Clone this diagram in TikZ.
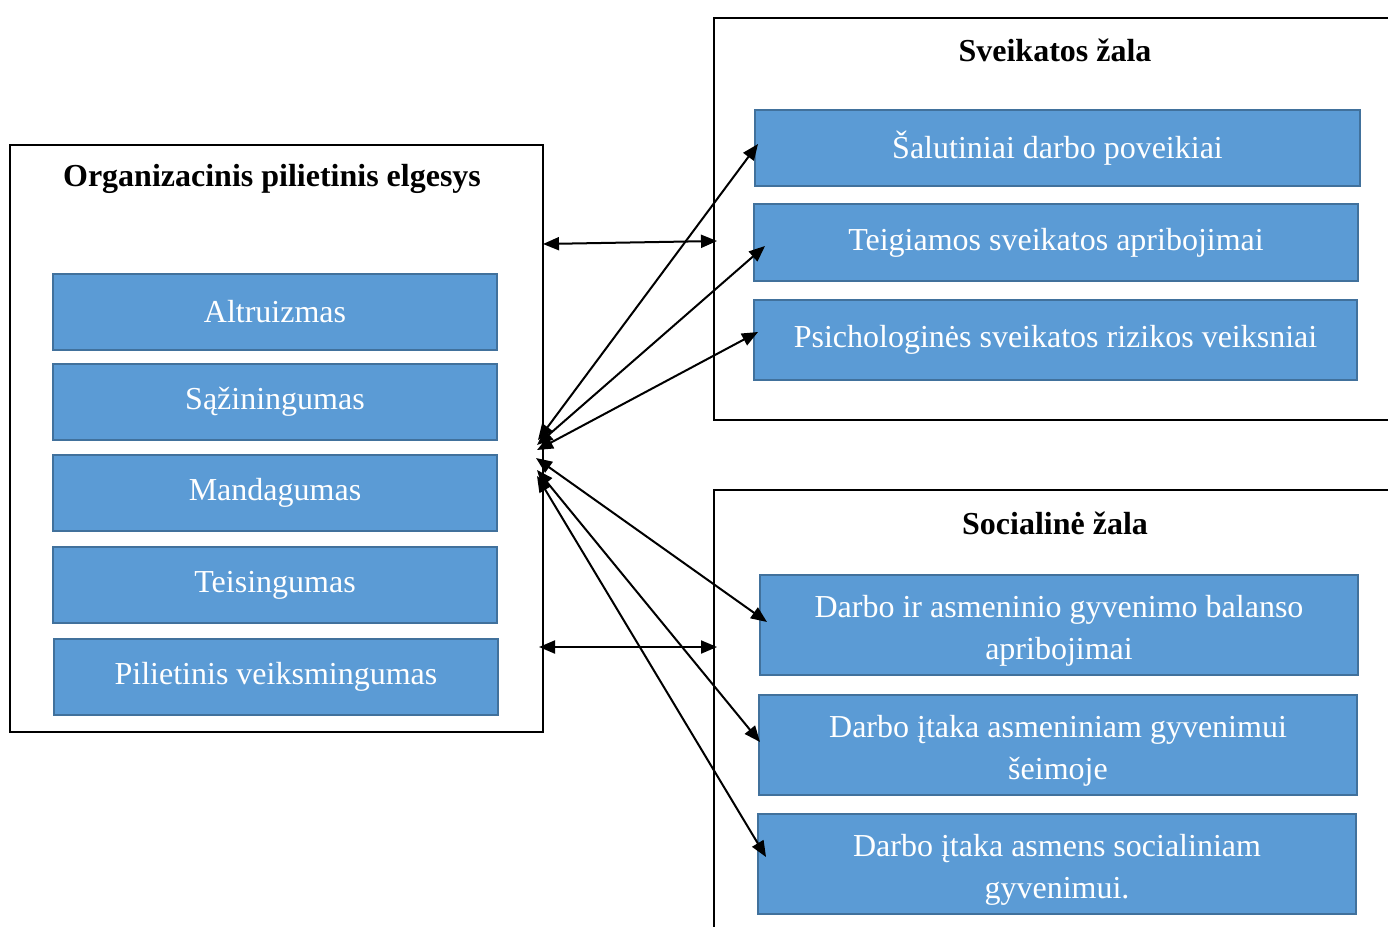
\documentclass[tikz,border=0pt]{standalone}
\usepackage{fontspec}
\setmainfont{Liberation Serif}
\usetikzlibrary{arrows.meta}
\definecolor{bluefill}{HTML}{5B9BD5}
\definecolor{blueedge}{HTML}{41719C}
\begin{document}
\begin{tikzpicture}[x=1pt,y=-1pt,
  outer/.style={draw=black,line width=2.2pt,fill=white,inner sep=0pt},
  item/.style={draw=blueedge,line width=2pt,fill=bluefill,text=white,inner sep=0pt,
    font=\fontsize{32}{42}\selectfont,align=center},
  ttl/.style={font=\fontsize{32}{36}\selectfont\bfseries,inner sep=0pt},
  link/.style={line width=2pt,{Triangle[length=16pt,width=13pt]}-{Triangle[length=16pt,width=13pt]}}]
\useasboundingbox (0,0) rectangle (1388,926);
% outer boxes
\node[outer,minimum width=533pt,minimum height=587pt] (L) at (276.5,438.5) {};
\node[outer,minimum width=706pt,minimum height=402pt] (R1) at (1067,219) {};
\node[outer,minimum width=706pt,minimum height=480pt] (R2) at (1067,730) {};
\node[ttl] (tL) at (272,179) {Organizacinis pilietinis elgesys};
\node[ttl] (tR1) at (1055,50) {Sveikatos žala};
\node[ttl] (tR2) at (1055,523) {Socialinė žala};
% left items
\node[item,minimum width=444pt,minimum height=76pt] (a1) at (275,311.5) {Altruizmas};
\node[item,minimum width=444pt,minimum height=76pt] (a2) at (275,401.5) {Sąžiningumas};
\node[item,minimum width=444pt,minimum height=76pt] (a3) at (275,493) {Mandagumas};
\node[item,minimum width=444pt,minimum height=76pt] (a4) at (275,585) {Teisingumas};
\node[item,minimum width=444pt,minimum height=76pt] (a5) at (276,677) {Pilietinis veiksmingumas};
% right items
\node[item,minimum width=605pt,minimum height=76pt] (s1) at (1057.5,148) {Šalutiniai darbo poveikiai};
\node[item,minimum width=604pt,minimum height=77pt] (s2) at (1056,242.5) {Teigiamos sveikatos apribojimai};
\node[item,minimum width=603pt,minimum height=80pt] (s3) at (1055.5,340) {Psichologinės sveikatos rizikos veiksniai};
\node[item,minimum width=598pt,minimum height=100pt] (b1) at (1059,625) {};
\node[item,minimum width=598pt,minimum height=100pt] (b2) at (1058,745) {};
\node[item,minimum width=598pt,minimum height=100pt] (b3) at (1057,864) {};
\node[item,draw=none,fill=none] (b1t) at ([yshift=-6pt]b1.center) {Darbo ir asmeninio gyvenimo balanso\\apribojimai};
\node[item,draw=none,fill=none] (b2t) at ([yshift=-6pt]b2.center) {Darbo įtaka asmeniniam gyvenimui\\šeimoje};
\node[item,draw=none,fill=none] (b3t) at ([yshift=-6pt]b3.center) {Darbo įtaka asmens socialiniam\\gyvenimui.};
% connector end points
\coordinate (h1l) at (543,244);
\coordinate (h1r) at (717,241);
\coordinate (h2l) at (539,647);
\coordinate (h2r) at (717,647);
\coordinate (c1) at (538,440);
\coordinate (c2) at (537,445);
\coordinate (c3) at (537,450);
\coordinate (c4) at (536,458);
\coordinate (c5) at (537,470);
\coordinate (c6) at (537,476);
\coordinate (e1) at (758,144);
\coordinate (e2) at (765,246);
\coordinate (e3) at (758,332);
\coordinate (e4) at (767,622);
\coordinate (e5) at (760,742);
\coordinate (e6) at (766,857);
\draw[link] (h1l) -- (h1r);
\draw[link] (h2l) -- (h2r);
\draw[link] (c1) -- (e1);
\draw[link] (c2) -- (e2);
\draw[link] (c3) -- (e3);
\draw[link] (c4) -- (e4);
\draw[link] (c5) -- (e5);
\draw[link] (c6) -- (e6);
\end{tikzpicture}
\end{document}
